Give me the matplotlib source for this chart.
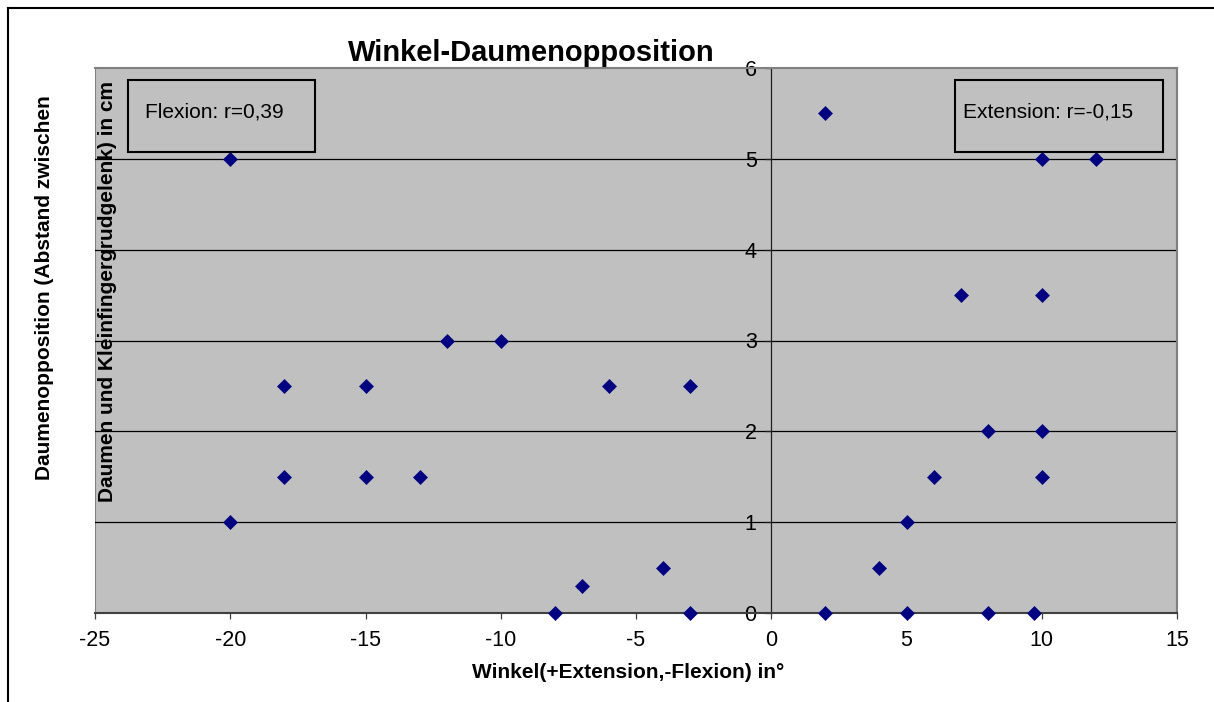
import matplotlib
matplotlib.use("Agg")
import matplotlib.pyplot as plt
from matplotlib.lines import Line2D
from matplotlib.patches import Rectangle

plt.rcParams["font.family"] = ["Liberation Sans", "DejaVu Sans"]

# angle (deg) vs. thumb opposition distance (cm)
flex_x = [-20, -20, -18, -18, -15, -15, -13, -12, -10, -8, -7, -6, -4, -3, -3]
flex_y = [5, 1, 2.5, 1.5, 2.5, 1.5, 1.5, 3, 3, 0, 0.3, 2.5, 0.5, 2.5, 0]
ext_x = [2, 2, 4, 5, 5, 6, 7, 8, 8, 9.7, 10, 10, 10, 10, 12]
ext_y = [5.5, 0, 0.5, 1, 0, 1.5, 3.5, 2, 0, 0, 5, 3.5, 2, 1.5, 5]

x_ticks = [-25, -20, -15, -10, -5, 0, 5, 10, 15]
y_ticks = [0, 1, 2, 3, 4, 5, 6]

title = "Winkel-Daumenopposition"
x_label = "Winkel(+Extension,-Flexion) in°"
y_label_1 = "Daumenopposition (Abstand zwischen"
y_label_2 = "Daumen und Kleinfingergrudgelenk) in cm"
flex_note = "Flexion: r=0,39"
ext_note = "Extension: r=-0,15"

W, H = 1214, 702
fig = plt.figure(figsize=(W / 100, H / 100), dpi=100)
fig.patch.set_facecolor("white")


def fx(px):
    return px / W


def fy(py):
    return 1 - py / H


ax = fig.add_axes([fx(95), fy(613), fx(1177) - fx(95), fy(68) - fy(613)])
ax.set_facecolor("#c0c0c0")
ax.set_xlim(-25, 15)
ax.set_ylim(0, 6)

# horizontal grid lines
for yv in y_ticks[1:-1]:
    ax.axhline(yv, color="black", linewidth=0.9, zorder=1)

# plot area frame
for side in ("top", "right"):
    ax.spines[side].set_color("#808080")
    ax.spines[side].set_linewidth(1.5)
ax.spines["bottom"].set_color("#404040")
ax.spines["bottom"].set_linewidth(1.5)
ax.spines["left"].set_position(("data", 0))
ax.spines["left"].set_color("#202020")
ax.spines["left"].set_linewidth(0.9)
ax.add_patch(Rectangle((0, 0), 1, 1, transform=ax.transAxes, fill=False,
                       edgecolor="#808080", linewidth=1.5, zorder=0.5))

ax.scatter(flex_x, flex_y, marker="D", s=58, color="#000080", zorder=5, clip_on=False, linewidths=0)
ax.scatter(ext_x, ext_y, marker="D", s=58, color="#000080", zorder=5, clip_on=False, linewidths=0)

ax.set_xticks(x_ticks)
ax.set_xticklabels([str(v) for v in x_ticks])
ax.set_yticks(y_ticks)
ax.set_yticklabels([str(v) for v in y_ticks])
ax.tick_params(axis="x", direction="out", length=4.5, width=0.9, color="#404040",
               labelsize=15.5, pad=8)
ax.tick_params(axis="y", direction="out", length=4.5, width=0.9, color="#202020",
               labelsize=15.5, pad=6)

# correlation boxes
for x0, x1, tx, note in [(128, 315, 145, flex_note), (955, 1163, 963, ext_note)]:
    fig.patches.append(Rectangle((fx(x0), fy(152)), fx(x1) - fx(x0), fy(80) - fy(152),
                                 transform=fig.transFigure, fill=False,
                                 edgecolor="black", linewidth=1.5, zorder=6))
    fig.text(fx(tx), fy(112), note, fontsize=15, ha="left", va="center", zorder=7)

fig.text(fx(531), fy(61), title, fontsize=21, fontweight="bold", ha="center", va="baseline")
fig.text(fx(628), fy(672), x_label, fontsize=15, fontweight="bold", ha="center", va="center")
fig.text(fx(45), fy(288), y_label_1, fontsize=15, fontweight="bold", rotation=90,
         ha="center", va="center")
fig.text(fx(108), fy(292), y_label_2, fontsize=15, fontweight="bold", rotation=90,
         ha="center", va="center", zorder=7)

# chart frame (top and left edges)
fig.lines.append(Line2D([fx(8), 1], [fy(8), fy(8)], transform=fig.transFigure,
                        color="black", linewidth=1.5))
fig.lines.append(Line2D([fx(8), fx(8)], [fy(8), 0], transform=fig.transFigure,
                        color="black", linewidth=1.5))

fig.savefig("out.png", dpi=100)
